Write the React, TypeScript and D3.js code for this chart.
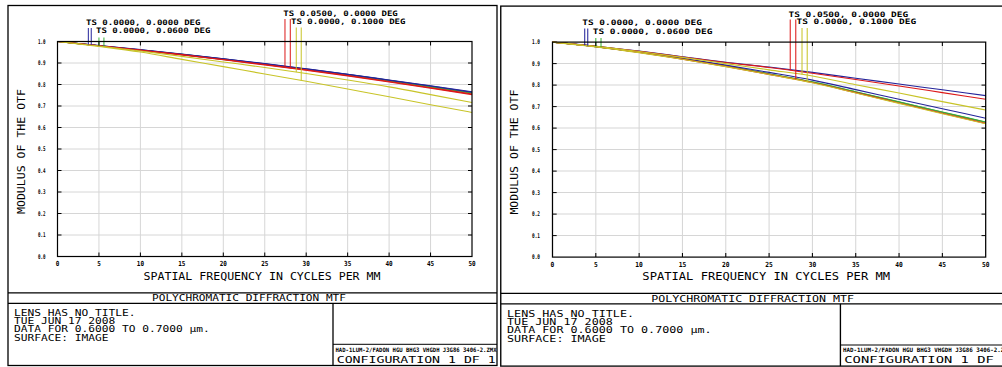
import * as d3 from 'd3';

// spatial frequency samples (cycles/mm)
const freqs = [0, 5, 10, 15, 20, 25, 30, 35, 40, 45, 50];
const xTicks = [0, 5, 10, 15, 20, 25, 30, 35, 40, 45, 50];
const yTicks = [0, 0.1, 0.2, 0.3, 0.4, 0.5, 0.6, 0.7, 0.8, 0.9, 1.0];

// configuration 1 (left)
const c1BlueT = [1.0, 0.981, 0.962, 0.942, 0.92, 0.897, 0.873, 0.848, 0.821, 0.794, 0.766];
const c1BlueS = [1.0, 0.981, 0.961, 0.941, 0.919, 0.896, 0.872, 0.847, 0.82, 0.793, 0.764];
const c1GreenT = [1.0, 0.98, 0.96, 0.94, 0.918, 0.895, 0.871, 0.846, 0.819, 0.791, 0.762];
const c1GreenS = [1.0, 0.98, 0.96, 0.939, 0.917, 0.894, 0.87, 0.844, 0.817, 0.789, 0.76];
const c1RedT = [1.0, 0.98, 0.96, 0.939, 0.916, 0.893, 0.868, 0.842, 0.814, 0.785, 0.756];
const c1RedS = [1.0, 0.98, 0.959, 0.938, 0.915, 0.891, 0.866, 0.84, 0.812, 0.783, 0.753];
const c1YellowT = [1.0, 0.979, 0.956, 0.931, 0.905, 0.879, 0.851, 0.821, 0.789, 0.753, 0.716];
const c1YellowS = [1.0, 0.977, 0.951, 0.917, 0.883, 0.849, 0.815, 0.779, 0.743, 0.706, 0.67];

// configuration 2 (right)
const c2BlueT = [1.0, 0.981, 0.958, 0.932, 0.906, 0.884, 0.859, 0.832, 0.805, 0.778, 0.751];
const c2BlueS = [1.0, 0.979, 0.954, 0.925, 0.893, 0.859, 0.823, 0.779, 0.734, 0.69, 0.646];
const c2GreenT = [1.0, 0.979, 0.953, 0.923, 0.89, 0.853, 0.815, 0.769, 0.722, 0.675, 0.628];
const c2GreenS = [1.0, 0.979, 0.953, 0.922, 0.889, 0.852, 0.814, 0.768, 0.721, 0.674, 0.627];
const c2RedT = [1.0, 0.98, 0.957, 0.931, 0.905, 0.882, 0.855, 0.826, 0.796, 0.765, 0.734];
const c2RedS = [1.0, 0.979, 0.952, 0.921, 0.887, 0.85, 0.812, 0.765, 0.717, 0.669, 0.622];
const c2YellowT = [1.0, 0.98, 0.956, 0.929, 0.9, 0.871, 0.842, 0.802, 0.763, 0.723, 0.684];
const c2YellowS = [1.0, 0.978, 0.951, 0.92, 0.886, 0.849, 0.811, 0.763, 0.715, 0.667, 0.62];

const fieldLabels = [
  'TS 0.0000, 0.0000 DEG',
  'TS 0.0000, 0.0600 DEG',
  'TS 0.0500, 0.0000 DEG',
  'TS 0.0000, 0.1000 DEG',
];
// frequency where each field's T / S marker drops onto its curve
const markerFreqs = [
  [3.72, 4.07],
  [5.0, 5.6],
  [27.44, 28.08],
  [28.8, 29.4],
];

const infoLines = [
  'LENS HAS NO TITLE.',
  'TUE JUN 17 2008',
  'DATA FOR 0.6000 TO 0.7000 µm.',
  'SURFACE: IMAGE',
];

const BLUE = '#24249a';
const GREEN = '#38b038';
const RED = '#dc1818';
const YELLOW = '#c8c428';
const fieldColors = [BLUE, GREEN, RED, YELLOW];

const config1 = [
  [c1BlueT, c1BlueS],
  [c1GreenT, c1GreenS],
  [c1RedT, c1RedS],
  [c1YellowT, c1YellowS],
];
const config2 = [
  [c2BlueT, c2BlueS],
  [c2GreenT, c2GreenS],
  [c2RedT, c2RedS],
  [c2YellowT, c2YellowS],
];

const FONT = '"DejaVu Sans Mono", monospace';

// panel layout in local pixels
const box = { left: 8, top: 5.5, right: 497, bottom: 365.5 };
const plot = { left: 57.5, top: 41.5, right: 472, bottom: 256.5 };
const labelPos = [
  { x: 86, y: 22, top: 28 },
  { x: 96, y: 30.5, top: 37.5 },
  { x: 283.3, y: 13.5, top: 19 },
  { x: 291, y: 21, top: 27.5 },
];

function T({ x, y, len, size, anchor = 'start', bold = false, rotate = false, children }: any) {
  return (
    <text
      x={x}
      y={y}
      fontFamily={FONT}
      fontSize={size}
      fontWeight={bold ? 'bold' : 'normal'}
      textAnchor={anchor}
      dominantBaseline="central"
      textLength={len}
      lengthAdjust="spacingAndGlyphs"
      transform={rotate ? `rotate(-90 ${x} ${y})` : undefined}
      fill="#000"
    >
      {children}
    </text>
  );
}

function Panel({ data, cfg, transform }: { data: number[][][]; cfg: number; transform?: string }) {
  const x = d3.scaleLinear().domain([0, 50]).range([plot.left, plot.right]);
  const y = d3.scaleLinear().domain([0, 1]).range([plot.bottom, plot.top]);
  const line = d3
    .line<number>()
    .x((_, i) => x(freqs[i]))
    .y((d) => y(d))
    .curve(d3.curveMonotoneX);

  // draw order: green, blue, red, yellow
  const order = [1, 0, 2, 3];
  const tickLen = 4;

  return (
    <g transform={transform}>
      {/* outer frame and title block */}
      <rect
        x={box.left}
        y={box.top}
        width={box.right - box.left}
        height={box.bottom - box.top}
        fill="#fff"
        stroke="#000"
        strokeWidth={1.3}
      />
      <line x1={box.left} x2={box.right} y1={292.8} y2={292.8} stroke="#000" strokeWidth={1.3} />
      <line x1={box.left} x2={box.right} y1={303.3} y2={303.3} stroke="#000" strokeWidth={1.3} />
      <line x1={333} x2={333} y1={303.3} y2={box.bottom} stroke="#000" strokeWidth={1.3} />
      <line x1={333} x2={box.right} y1={344.3} y2={344.3} stroke="#000" strokeWidth={1} />

      {/* grid */}
      {xTicks.slice(1, -1).map((t) => (
        <line key={'gx' + t} x1={x(t)} x2={x(t)} y1={plot.top} y2={plot.bottom} stroke="#d6d6d6" strokeWidth={1} />
      ))}
      {yTicks.slice(1, -1).map((t) => (
        <line key={'gy' + t} x1={plot.left} x2={plot.right} y1={y(t)} y2={y(t)} stroke="#d6d6d6" strokeWidth={1} />
      ))}

      {/* curves */}
      {order.map((fi) =>
        data[fi].map((vals, k) => (
          <path key={`c${fi}-${k}`} d={line(vals) || ''} fill="none" stroke={fieldColors[fi]} strokeWidth={1.1} />
        ))
      )}

      {/* field markers */}
      {order.map((fi) =>
        markerFreqs[fi].map((f, k) => {
          const v = d3.scaleLinear().domain(freqs).range(data[fi][k])(f);
          return (
            <line
              key={`m${fi}-${k}`}
              x1={x(f)}
              x2={x(f)}
              y1={labelPos[fi].top}
              y2={y(v)}
              stroke={fieldColors[fi]}
              strokeWidth={1}
            />
          );
        })
      )}
      {fieldLabels.map((s, i) => (
        <T key={'fl' + i} x={labelPos[i].x} y={labelPos[i].y} len={114.5} size={7.5} bold>
          {s}
        </T>
      ))}

      {/* axes frame */}
      <rect
        x={plot.left}
        y={plot.top}
        width={plot.right - plot.left}
        height={plot.bottom - plot.top}
        fill="none"
        stroke="#000"
        strokeWidth={1.2}
      />
      {xTicks.slice(1, -1).map((t) => (
        <g key={'tx' + t}>
          <line x1={x(t)} x2={x(t)} y1={plot.bottom} y2={plot.bottom - tickLen} stroke="#000" />
          <line x1={x(t)} x2={x(t)} y1={plot.top} y2={plot.top + tickLen} stroke="#000" />
        </g>
      ))}
      {yTicks.slice(1, -1).map((t) => (
        <g key={'ty' + t}>
          <line x1={plot.left} x2={plot.left + tickLen} y1={y(t)} y2={y(t)} stroke="#000" />
          <line x1={plot.right} x2={plot.right - tickLen} y1={y(t)} y2={y(t)} stroke="#000" />
        </g>
      ))}
      {xTicks.map((t) => (
        <T key={'lx' + t} x={x(t)} y={264} len={t < 10 ? 3.6 : 7.2} size={7} anchor="middle" bold>
          {String(t)}
        </T>
      ))}
      {yTicks.map((t) => (
        <T key={'ly' + t} x={45.5} y={y(t)} len={7.6} size={6.5} anchor="end" bold>
          {t.toFixed(1)}
        </T>
      ))}

      {/* axis titles */}
      <T x={262} y={276} len={237} size={10} anchor="middle">
        SPATIAL FREQUENCY IN CYCLES PER MM
      </T>
      <T x={21.5} y={151.5} len={125} size={10} anchor="middle" rotate>
        MODULUS OF THE OTF
      </T>

      {/* title block text */}
      <T x={249} y={298.3} len={194} size={8.5} anchor="middle">
        POLYCHROMATIC DIFFRACTION MTF
      </T>
      {infoLines.map((s, i) => (
        <T key={'il' + i} x={14} y={313 + i * 8.4} len={s.length * 6.75} size={8}>
          {s}
        </T>
      ))}
      <T x={335.5} y={349.3} len={161} size={6} bold>
        HAD-1LUM-2/FADON HGU BHG3 VHGDH J3G86 3406-2.ZMX
      </T>
      <T x={336.7} y={359.3} len={159} size={9.5}>
        {`CONFIGURATION 1 DF ${cfg}`}
      </T>
    </g>
  );
}

export default function App() {
  return (
    <svg
      width={1002}
      height={367}
      viewBox="0 0 1002 367"
      style={{ position: 'absolute', left: 0, top: 0, background: '#fff' }}
    >
      <rect width={1002} height={367} fill="#fff" />
      <Panel data={config1} cfg={1} />
      <Panel data={config2} cfg={1} transform="translate(492.4,0.6) scale(1.0451,1)" />
    </svg>
  );
}
